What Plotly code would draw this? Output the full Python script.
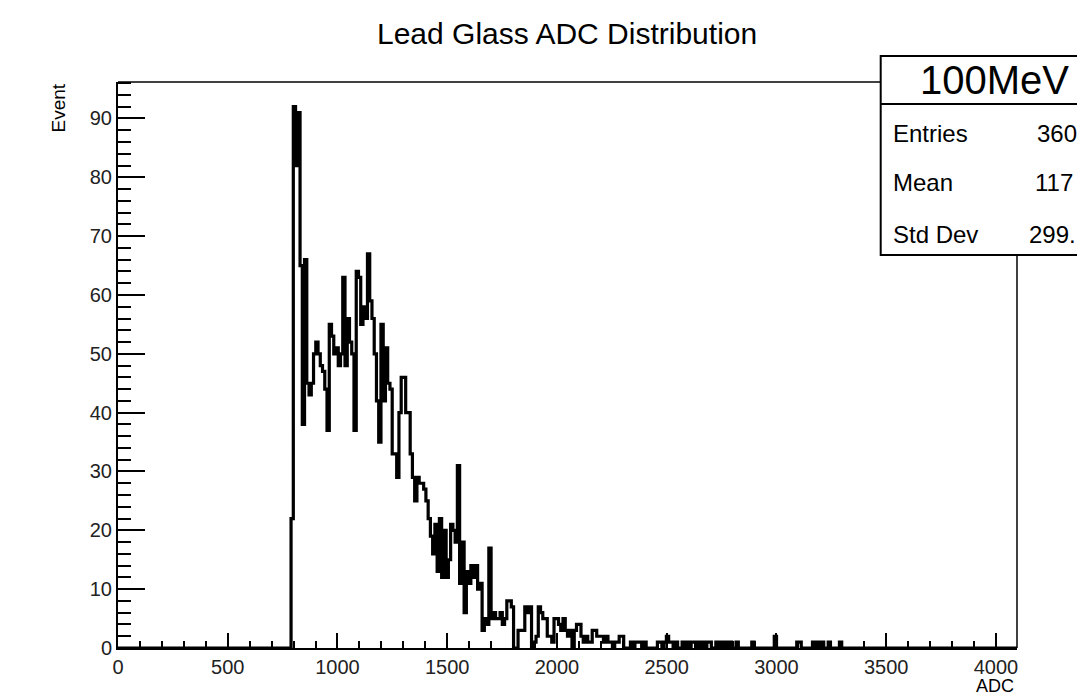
import numpy as np
import plotly.graph_objects as go

# ---------------- data ----------------
n_bins = 400
x_min, x_max = 0.0, 4096.0
first_bin = 77  # index of first non-empty bin

counts_peak = [22, 92, 82, 91, 65, 38, 66, 45, 43, 45,
               50, 52, 50, 48, 47, 44, 37, 55, 53, 50,
               51, 48, 50, 63, 48, 56, 52, 50, 37, 64,
               63, 55, 58, 56, 67, 59, 56]
counts_fall = [50, 42, 35, 55, 42, 51, 45, 44, 33, 33,
               29, 40, 46, 46, 40, 40, 33, 29, 25, 29,
               28, 28, 27, 25, 22, 19, 16, 21, 13, 22,
               12, 20, 12, 15, 21, 20, 18, 31, 11, 18,
               6, 13]
counts_tail = [11, 14, 12, 14, 10, 11, 3, 5, 4, 17,
               5, 6, 5, 5, 6, 4, 5, 8, 8, 7,
               0, 0, 3, 3, 3, 7, 6, 7, 0, 1,
               2, 7, 6, 5, 5, 2, 2, 1, 5, 5,
               4, 3, 5, 3, 2]
counts_far = [3, 0, 3, 4, 4, 2, 1, 2, 1, 1,
              3, 3, 2, 2, 2, 1, 2, 1, 1, 0,
              1, 1, 2, 2, 0, 0, 0, 1, 0, 1,
              1, 1, 0, 1, 0, 0, 0, 0, 0, 1,
              1, 0, 1, 2, 1, 1, 0, 1, 0, 0,
              1, 0, 1, 0, 1, 1, 0, 1, 0, 1,
              0, 1, 1, 0, 0, 1, 0, 1, 0, 1,
              0, 1, 0, 0, 1, 0, 0, 0, 0, 0,
              0, 1, 0, 0, 0, 0, 0, 0, 0, 0,
              0, 2, 0, 0, 0, 0, 0, 0, 0, 0,
              0, 1, 1, 0, 0, 0, 0, 0, 1, 0,
              1, 0, 1, 0, 0, 1, 0, 0, 0, 0,
              1]

x_ticks = [0, 500, 1000, 1500, 2000, 2500, 3000, 3500, 4000]
y_ticks = [0, 10, 20, 30, 40, 50, 60, 70, 80, 90]

title_text = "Lead Glass ADC Distribution"
x_title = "ADC"
y_title = "Event"
stats_name = "100MeV"
stats_labels = ["Entries", "Mean", "Std Dev"]
# values as visible in the (right-cropped) statistics box
stats_values = ["360", "117", "299."]

# ---------------- build histogram ----------------
nonzero = counts_peak + counts_fall + counts_tail + counts_far
counts = [0] * n_bins
for k, v in enumerate(nonzero):
    counts[first_bin + k] = v
edges = np.linspace(x_min, x_max, n_bins + 1)
xs = list(edges)
ys = counts + [counts[-1]]

FONT = "Liberation Sans, Arial, Helvetica, sans-serif"

fig = go.Figure()
fig.add_trace(go.Scatter(
    x=xs, y=ys, mode="lines", line=dict(shape="hv", color="black", width=3.2),
    hoverinfo="skip", showlegend=False))

L, R, T, B = 118, 60, 82, 52
W, H = 1077, 700
pw, ph = W - L - R, H - T - B


def px_x(px):
    return (px - L) / pw


def px_y(py):
    return 1 - (py - T) / ph


fig.update_layout(
    width=W, height=H,
    margin=dict(l=L, r=R, t=T, b=B),
    paper_bgcolor="white", plot_bgcolor="white",
    font=dict(family=FONT, size=21, color="black"),
    showlegend=False,
    xaxis=dict(range=[x_min, x_max], tickvals=x_ticks, ticktext=[str(t) for t in x_ticks],
               ticks="inside", ticklen=15, tickwidth=1.5, tickcolor="black",
               showline=True, linecolor="black", linewidth=2, mirror=False,
               showgrid=False, zeroline=False,
               minor=dict(dtick=100, tick0=0, ticks="inside", ticklen=7, tickwidth=1.5,
                          tickcolor="black", showgrid=False),
               tickfont=dict(size=20, family=FONT, color="#222")),
    yaxis=dict(range=[0, 96.2], tickvals=y_ticks, ticktext=[str(t) for t in y_ticks],
               ticks="inside", ticklen=27, tickwidth=1.5, tickcolor="black",
               showline=True, linecolor="black", linewidth=2, mirror=False,
               showgrid=False, zeroline=False,
               minor=dict(dtick=2, tick0=0, ticks="inside", ticklen=13, tickwidth=1.5,
                          tickcolor="black", showgrid=False),
               tickfont=dict(size=20, family=FONT, color="#222")),
)

shapes = [
    # frame top / right
    dict(type="line", xref="paper", yref="paper", x0=0, x1=1, y0=1, y1=1,
         line=dict(color="black", width=1.5), layer="above"),
    dict(type="line", xref="paper", yref="paper", x0=1, x1=1, y0=0, y1=1,
         line=dict(color="black", width=1.5), layer="above"),
    # stats box
    dict(type="rect", xref="paper", yref="paper",
         x0=px_x(880.7), x1=px_x(1108), y0=px_y(255), y1=px_y(56),
         fillcolor="white", line=dict(color="black", width=2), layer="above"),
    dict(type="line", xref="paper", yref="paper",
         x0=px_x(880.7), x1=px_x(1108), y0=px_y(104), y1=px_y(104),
         line=dict(color="black", width=2), layer="above"),
]

annotations = [
    dict(text=title_text, xref="paper", yref="paper", x=px_x(567), y=px_y(33),
         xanchor="center", yanchor="middle", showarrow=False,
         font=dict(size=30, family=FONT, color="black")),
    dict(text=y_title, xref="paper", yref="paper", x=px_x(58), y=px_y(82),
         xanchor="center", yanchor="top", textangle=-90, showarrow=False,
         font=dict(size=19, family=FONT, color="black")),
    dict(text=x_title, xref="paper", yref="paper", x=px_x(1016), y=px_y(698),
         xanchor="right", yanchor="bottom", showarrow=False,
         font=dict(size=18, family=FONT, color="black")),
    dict(text=stats_name, xref="paper", yref="paper", x=px_x(994), y=px_y(80),
         xanchor="center", yanchor="middle", showarrow=False,
         font=dict(size=40, family=FONT, color="black")),
]
for lab, val, py, vx in zip(stats_labels, stats_values, [133, 183, 234], [1035, 1033, 1027]):
    annotations.append(dict(text=lab, xref="paper", yref="paper", x=px_x(891), y=px_y(py),
                            xanchor="left", yanchor="middle", showarrow=False,
                            font=dict(size=24, family=FONT, color="black")))
    annotations.append(dict(text=val, xref="paper", yref="paper", x=px_x(vx), y=px_y(py),
                            xanchor="left", yanchor="middle", showarrow=False,
                            font=dict(size=24, family=FONT, color="black")))

fig.update_layout(shapes=shapes, annotations=annotations)
fig.write_html("out.html")
